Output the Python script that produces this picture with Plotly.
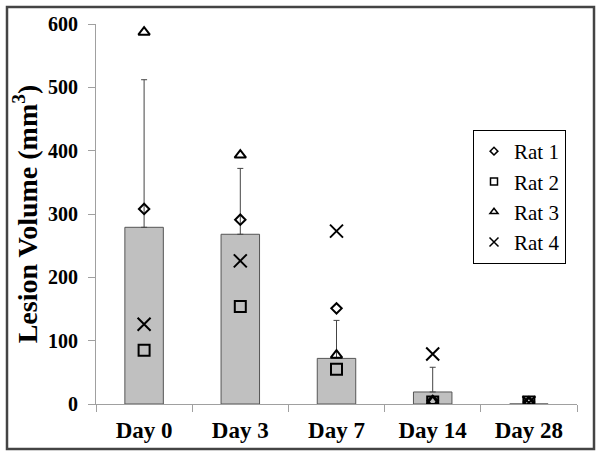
import plotly.graph_objects as go

days = ["Day 0", "Day 3", "Day 7", "Day 14", "Day 28"]
bar_values = [279, 268, 72, 19, 0]
bar_errors = [233, 104, 60, 39, 0]
rat1 = [308, 291, 151, 5, 3]
rat2 = [85, 154, 55, 3, 3]
rat3 = [587, 393, 77, 4, 2]
rat4 = [126, 226, 273, 79, 2]
rat_names = ["Rat 1", "Rat 2", "Rat 3", "Rat 4"]
y_ticks = [0, 100, 200, 300, 400, 500, 600]

FONT = "Liberation Serif, Times New Roman, serif"

fig = go.Figure()
fig.add_trace(go.Bar(
    x=days, y=bar_values, width=0.4,
    marker=dict(color="#c0c0c0", line=dict(color="#555555", width=1)),
    error_y=dict(type="data", symmetric=False, array=bar_errors,
                 arrayminus=[0] * len(bar_errors), color="#444444",
                 thickness=1, width=3),
    showlegend=False,
))

rats = [rat1, rat2, rat3, rat4]
symbols = ["diamond-open", "square-open", "triangle-up-open", "x-thin-open"]
sizes = [8, 11, 10, 13]
leg_sizes = [6, 7, 7, 9]
for vals, name, sym, sz in zip(rats, rat_names, symbols, sizes):
    fig.add_trace(go.Scatter(
        x=days, y=vals, mode="markers", name=name, showlegend=False,
        marker=dict(symbol=sym, size=sz, color="black",
                    line=dict(color="black", width=2)),
    ))
for name, sym, sz in zip(rat_names, symbols, leg_sizes):
    fig.add_trace(go.Scatter(
        x=[None], y=[None], mode="markers", name=name, showlegend=True,
        marker=dict(symbol=sym, size=sz, color="black",
                    line=dict(color="black", width=1.5)),
    ))

L, R, T, B = 96, 25, 24, 54
pw, ph = 602 - L - R, 458 - T - B

fig.update_layout(
    width=602, height=458,
    margin=dict(l=L, r=R, t=T, b=B, pad=0, autoexpand=False),
    paper_bgcolor="white", plot_bgcolor="white",
    font=dict(family=FONT, color="black"),
    xaxis=dict(
        type="category", showgrid=False, showline=True, linecolor="#a0a0a0",
        linewidth=1, ticks="outside", tickson="boundaries", ticklen=7,
        tickcolor="#a0a0a0", ticklabelstandoff=5,
        tickfont=dict(family=FONT, size=23, color="black", weight="bold"),
        fixedrange=True,
    ),
    yaxis=dict(
        range=[0, 600], tickvals=y_ticks, showgrid=False, zeroline=False,
        showline=True, linecolor="#a0a0a0", linewidth=1, ticks="outside",
        ticklen=7, tickcolor="#a0a0a0", ticklabelstandoff=6,
        tickfont=dict(family=FONT, size=20, color="black", weight="bold"),
        title=dict(text="<b>Lesion Volume (mm<sup>3</sup>)</b>",
                   font=dict(family=FONT, size=28, color="black"),
                   standoff=2),
    ),
    legend=dict(
        x=(473 - L) / pw, y=(404 - 130) / ph, xanchor="left", yanchor="top",
        bordercolor="black", borderwidth=1, bgcolor="white",
        font=dict(family=FONT, size=21, color="black"),
        tracegroupgap=0,
    ),
    bargap=0.6,
)

fig.add_shape(type="rect", xref="paper", yref="paper",
              x0=(7 - L) / pw, x1=(594 - L) / pw,
              y0=(404 - 449) / ph, y1=(404 - 7) / ph,
              line=dict(color="#444444", width=2.5), layer="above")

fig.write_html("out.html", config={"displayModeBar": False},
               post_script="document.body.style.margin='0';")
